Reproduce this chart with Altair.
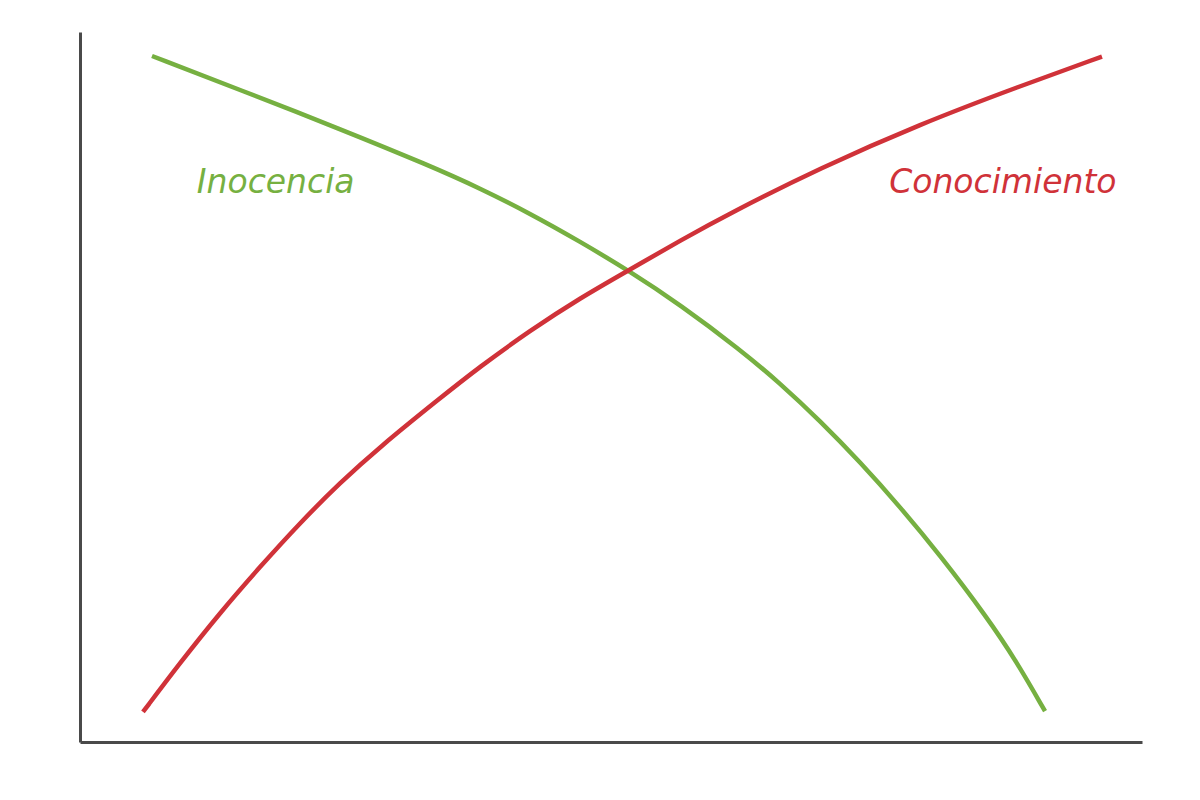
import altair as alt
import pandas as pd

# Inocencia (green) curve points (x, y in 0-100 units)
inoc_x = [6.78, 15.07, 24.48, 32.96, 37.66, 42.37, 47.08, 51.60, 56.50, 62.15,
          65.91, 69.68, 73.45, 77.21, 80.98, 85.40, 88.14, 90.87]
inoc_y = [96.62, 91.85, 86.35, 81.15, 77.99, 74.44, 70.49, 66.44, 61.61, 55.27,
          50.54, 45.24, 39.44, 33.13, 26.31, 17.58, 11.45, 4.34]

# Conocimiento (red) curve points
con_x = [5.93, 9.42, 13.18, 16.95, 20.72, 24.48, 28.25, 33.71, 37.66, 42.37,
         47.08, 51.79, 56.50, 61.21, 69.68, 79.10, 88.51, 96.23]
con_y = [4.23, 11.15, 18.20, 24.68, 30.87, 36.51, 41.58, 48.20, 52.87, 57.94,
         62.52, 66.54, 70.62, 74.49, 80.83, 87.03, 92.38, 96.54]

label_text = ["Inocencia", "Conocimiento"]
label_x = [11.0, 97.6]
label_y = [77.3, 77.3]

GREEN = "#76b041"
RED = "#d03239"

df_i = pd.DataFrame({"x": inoc_x, "y": inoc_y})
df_c = pd.DataFrame({"x": con_x, "y": con_y})

xs = alt.Scale(domain=[0, 100], nice=False, zero=False)
ys = alt.Scale(domain=[0, 100], nice=False, zero=False)

X = alt.X("x:Q", scale=xs, title=None)
Y = alt.Y("y:Q", scale=ys, title=None)

green = alt.Chart(df_i).mark_line(color=GREEN, strokeWidth=4.5, interpolate="basis").encode(
    x=X, y=Y, order="x:Q")
red = alt.Chart(df_c).mark_line(color=RED, strokeWidth=4.5, interpolate="basis").encode(
    x=X, y=Y, order="x:Q")

t1 = alt.Chart(pd.DataFrame({"x": [label_x[0]], "y": [label_y[0]], "t": [label_text[0]]})).mark_text(
    color=GREEN, font="DejaVu Sans", fontStyle="italic", fontSize=33, align="left",
    baseline="alphabetic").encode(x=X, y=Y, text="t:N")
t2 = alt.Chart(pd.DataFrame({"x": [label_x[1]], "y": [label_y[1]], "t": [label_text[1]]})).mark_text(
    color=RED, font="DejaVu Sans", fontStyle="italic", fontSize=33, align="right",
    baseline="alphabetic").encode(x=X, y=Y, text="t:N")

chart = alt.layer(green, red, t1, t2).properties(
    width=1062, height=710,
    autosize=alt.AutoSizeParams(type="none"),
    padding={"left": 72, "top": 24, "right": 40, "bottom": 40},
    background="white",
).configure_view(stroke=None).configure_axis(
    domain=True, domainColor="#4a4a4a", domainWidth=3, ticks=False,
    labels=False, grid=False, title=None,
)

chart.save("out.html", embed_options={"renderer": "svg", "actions": False})
